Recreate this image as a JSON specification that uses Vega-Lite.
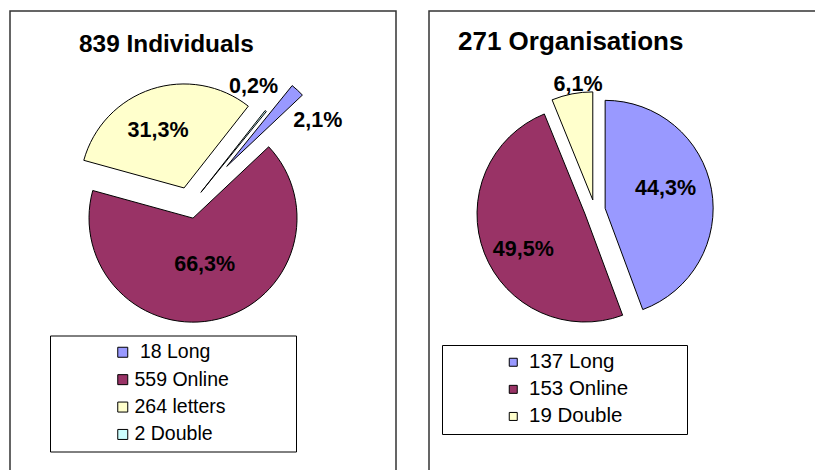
{
  "$schema": "https://vega.github.io/schema/vega-lite/v6.json",
  "background": "white",
  "padding": {"left": 9, "top": 10, "right": 0, "bottom": 0},
  "spacing": 31,
  "config": {
    "view": {"stroke": "#333333", "strokeWidth": 1.5},
    "font": "Liberation Sans"
  },
  "datasets": {
    "ind": [
      {"type": "Long", "name": "\u00a018 Long", "n": 18, "pct": "2,1%"},
      {"type": "Online", "name": "559 Online", "n": 559, "pct": "66,3%"},
      {"type": "letters", "name": "264 letters", "n": 264, "pct": "31,3%"},
      {"type": "Double", "name": "2 Double", "n": 2, "pct": "0,2%"}
    ],
    "org": [
      {"type": "Long", "name": "137 Long", "n": 137, "pct": "44,3%"},
      {"type": "Online", "name": "153 Online", "n": 153, "pct": "49,5%"},
      {"type": "Double", "name": "19 Double", "n": 19, "pct": "6,1%"}
    ]
  },
  "resolve": {
    "scale": {"color": "independent", "x": "independent", "y": "independent", "theta": "independent"},
    "legend": {"color": "independent"}
  },
  "hconcat": [
    {
      "width": 386,
      "height": 470,
      "data": {"name": "ind"},
      "title": {"text": "839 Individuals", "anchor": "start", "frame": "group", "orient": "top", "offset": 0, "dx": 69, "dy": 65, "baseline": "alphabetic", "fontSize": 24.4, "font": "Liberation Sans", "fontWeight": "bold", "color": "black"},
      "transform": [
        {"stack": "n", "groupby": [], "offset": "normalize", "as": ["s0", "s1"]},
        {"calculate": "(datum.s0 + datum.s1) / 2", "as": "m"},
        {"calculate": "datum.type === 'Long' ? 54 : datum.type === 'Online' ? 12.5 : datum.type === 'letters' ? 19 : 17.5", "as": "ex"},
        {"calculate": "0.6807 + 2 * PI * datum.m", "as": "ang"},
        {"calculate": "datum.ex * sin(datum.ang)", "as": "cx"},
        {"calculate": "datum.ex * cos(datum.ang)", "as": "cy"}
      ],
      "encoding": {
        "x": {"field": "cx", "type": "quantitative", "scale": {"domain": [-180, 206], "nice": false, "zero": false}, "axis": null},
        "y": {"field": "cy", "type": "quantitative", "scale": {"domain": [-275, 195], "nice": false, "zero": false}, "axis": null}
      },
      "layer": [
        {
          "mark": {"type": "arc", "radius": 104, "stroke": "black", "strokeWidth": 1},
          "encoding": {
            "theta": {"field": "s0", "type": "quantitative", "stack": null, "scale": {"domain": [0, 1], "range": [0.6807, 6.9639]}},
            "theta2": {"field": "s1"},
            "color": {
              "field": "name", "type": "nominal",
              "scale": {"domain": ["\u00a018 Long", "559 Online", "264 letters", "2 Double"], "range": ["#9999FF", "#993366", "#FFFFCC", "#CCFFFF"]},
              "legend": {
                "orient": "none", "legendX": 40, "legendY": 324.5, "direction": "vertical",
                "title": "\u200b\u00a0\u00a0\u00a0\u00a0\u00a0\u00a0\u00a0\u00a0\u00a0\u00a0\u200b", "titleOrient": "left", "titleFontSize": 20.1, "titlePadding": 0,
                "padding": 7, "fillColor": "white", "strokeColor": "black",
                "symbolType": "square", "symbolSize": 100, "symbolStrokeColor": "black", "symbolStrokeWidth": 1, "symbolOpacity": 1,
                "labelFont": "Liberation Sans", "labelFontSize": 19.5, "labelColor": "black", "labelOffset": 2, "rowPadding": 6.4, "labelLimit": 400,
                "labelExpr": "'\u200b' + datum.label + '\u00a0\u00a0\u00a0\u00a0\u00a0\u00a0\u00a0\u00a0\u00a0\u00a0\u00a0\u200b'"
              }
            }
          }
        },
        {
          "transform": [{"filter": "datum.type === 'letters'"}],
          "mark": {"type": "text", "radius": 62.7, "thetaOffset": -0.11, "fontSize": 21.5, "fontWeight": "bold", "font": "Liberation Sans", "color": "black", "align": "center", "baseline": "middle"},
          "encoding": {"theta": {"field": "m", "type": "quantitative", "scale": {"domain": [0, 1], "range": [0.6807, 6.9639]}}, "text": {"field": "pct"}}
        },
        {
          "transform": [{"filter": "datum.type === 'Online'"}],
          "mark": {"type": "text", "radius": 48.3, "thetaOffset": 0, "fontSize": 21.5, "fontWeight": "bold", "font": "Liberation Sans", "color": "black", "align": "center", "baseline": "middle"},
          "encoding": {"theta": {"field": "m", "type": "quantitative", "scale": {"domain": [0, 1], "range": [0.6807, 6.9639]}}, "text": {"field": "pct"}}
        },
        {
          "transform": [{"filter": "datum.type === 'Long'"}],
          "mark": {"type": "text", "radius": 101.7, "thetaOffset": 0.361, "fontSize": 21.5, "fontWeight": "bold", "font": "Liberation Sans", "color": "black", "align": "center", "baseline": "middle"},
          "encoding": {"theta": {"field": "m", "type": "quantitative", "scale": {"domain": [0, 1], "range": [0.6807, 6.9639]}}, "text": {"field": "pct"}}
        },
        {
          "transform": [{"filter": "datum.type === 'Double'"}],
          "mark": {"type": "text", "radius": 118, "thetaOffset": -0.211, "fontSize": 21.5, "fontWeight": "bold", "font": "Liberation Sans", "color": "black", "align": "center", "baseline": "middle"},
          "encoding": {"theta": {"field": "m", "type": "quantitative", "scale": {"domain": [0, 1], "range": [0.6807, 6.9639]}}, "text": {"field": "pct"}}
        }
      ]
    },
    {
      "width": 400,
      "height": 470,
      "data": {"name": "org"},
      "title": {"text": "271 Organisations", "anchor": "start", "frame": "group", "orient": "top", "offset": 0, "dx": 29, "dy": 64.5, "baseline": "alphabetic", "fontSize": 26, "font": "Liberation Sans", "fontWeight": "bold", "color": "black"},
      "transform": [
        {"stack": "n", "groupby": [], "offset": "normalize", "as": ["s0", "s1"]},
        {"calculate": "(datum.s0 + datum.s1) / 2", "as": "m"},
        {"calculate": "10.5", "as": "ex"},
        {"calculate": "2 * PI * datum.m", "as": "ang"},
        {"calculate": "datum.ex * sin(datum.ang)", "as": "cx"},
        {"calculate": "datum.ex * cos(datum.ang)", "as": "cy"}
      ],
      "encoding": {
        "x": {"field": "cx", "type": "quantitative", "scale": {"domain": [-165.8, 234.2], "nice": false, "zero": false}, "axis": null},
        "y": {"field": "cy", "type": "quantitative", "scale": {"domain": [-270.8, 199.2], "nice": false, "zero": false}, "axis": null}
      },
      "layer": [
        {
          "mark": {"type": "arc", "radius": 108, "stroke": "black", "strokeWidth": 1},
          "encoding": {
            "theta": {"field": "s0", "type": "quantitative", "stack": null, "scale": {"domain": [0, 1], "range": [0, 6.2832]}},
            "theta2": {"field": "s1"},
            "color": {
              "field": "name", "type": "nominal",
              "scale": {"domain": ["137 Long", "153 Online", "19 Double"], "range": ["#9999FF", "#993366", "#FFFFCC"]},
              "legend": {
                "orient": "none", "legendX": 13, "legendY": 334, "direction": "vertical",
                "title": "\u200b\u00a0\u00a0\u00a0\u00a0\u00a0\u00a0\u00a0\u00a0\u00a0\u00a0\u200b", "titleOrient": "left", "titleFontSize": 19.1, "titlePadding": 0,
                "padding": 7, "fillColor": "white", "strokeColor": "black",
                "symbolType": "square", "symbolSize": 64, "symbolStrokeColor": "black", "symbolStrokeWidth": 1, "symbolOpacity": 1,
                "labelFont": "Liberation Sans", "labelFontSize": 20.5, "labelColor": "black", "labelOffset": 5.5, "rowPadding": 6.1, "labelLimit": 400,
                "labelExpr": "datum.label + '\u00a0\u00a0\u00a0\u00a0\u00a0\u00a0\u00a0\u00a0\u00a0\u200b'"
              }
            }
          }
        },
        {
          "transform": [{"filter": "datum.type === 'Long'"}],
          "mark": {"type": "text", "radius": 63.3, "thetaOffset": -0.126, "fontSize": 21.5, "fontWeight": "bold", "font": "Liberation Sans", "color": "black", "align": "center", "baseline": "middle"},
          "encoding": {"theta": {"field": "m", "type": "quantitative", "scale": {"domain": [0, 1], "range": [0, 6.2832]}}, "text": {"field": "pct"}}
        },
        {
          "transform": [{"filter": "datum.type === 'Online'"}],
          "mark": {"type": "text", "radius": 71.3, "thetaOffset": -0.155, "fontSize": 21.5, "fontWeight": "bold", "font": "Liberation Sans", "color": "black", "align": "center", "baseline": "middle"},
          "encoding": {"theta": {"field": "m", "type": "quantitative", "scale": {"domain": [0, 1], "range": [0, 6.2832]}}, "text": {"field": "pct"}}
        },
        {
          "transform": [{"filter": "datum.type === 'Double'"}],
          "mark": {"type": "text", "radius": 115.7, "thetaOffset": 0.066, "fontSize": 21.5, "fontWeight": "bold", "font": "Liberation Sans", "color": "black", "align": "center", "baseline": "middle"},
          "encoding": {"theta": {"field": "m", "type": "quantitative", "scale": {"domain": [0, 1], "range": [0, 6.2832]}}, "text": {"field": "pct"}}
        }
      ]
    }
  ]
}
